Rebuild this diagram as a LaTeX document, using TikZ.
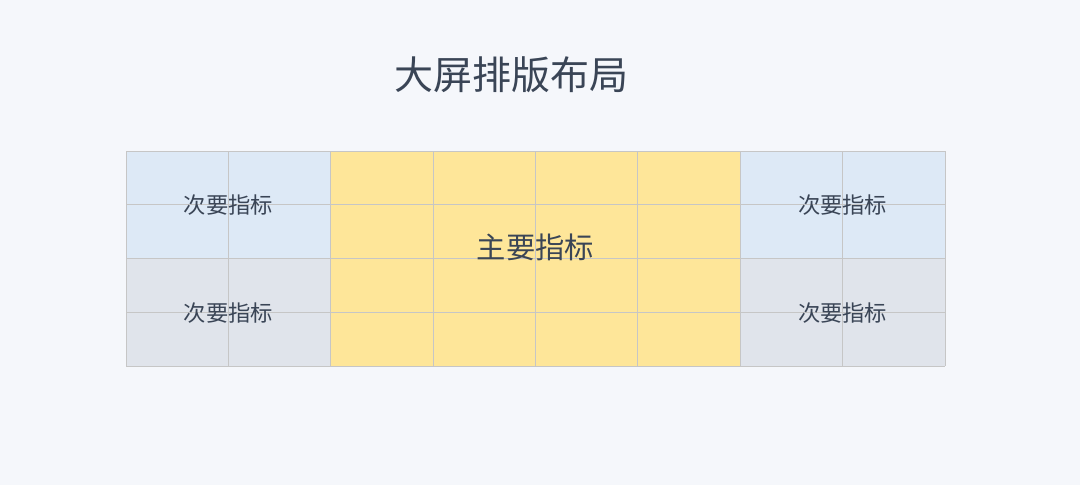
\documentclass[tikz,border=0pt]{standalone}
\usepackage{fontspec}
\newfontfamily\cjk{Noto Sans CJK SC}
\definecolor{bg}{HTML}{F5F7FB}
\definecolor{txt}{HTML}{3A4556}
\definecolor{blu}{HTML}{DDE9F6}
\definecolor{gry}{HTML}{E0E4EB}
\definecolor{yel}{HTML}{FEE699}
\definecolor{gridc}{HTML}{C6C6C6}
\tikzset{
  lbl/.style={text=txt,inner sep=0pt,font=\cjk\fontsize{22.3}{22.3}\selectfont},
  gl/.style={draw=gridc,line width=0.9pt}
}
\begin{document}
\begin{tikzpicture}[x=1pt,y=-1pt]
\fill[bg] (0,0) rectangle (1080,485);
\useasboundingbox (0,0) rectangle (1080,485);
\node[text=txt,inner sep=0pt,font=\cjk\fontsize{39}{39}\selectfont] (title) at (511,75) {大屏排版布局};
% fills
\fill[blu] (126,151) rectangle (331,259);
\fill[gry] (126,259) rectangle (331,366);
\fill[yel] (331,151) rectangle (740,366);
\fill[blu] (740,151) rectangle (945,259);
\fill[gry] (740,259) rectangle (945,366);
% grid
\foreach \x in {126,228.4,330.8,433.1,535.5,637.9,740.3,842.6,945}
  \draw[gl] (\x,151) -- (\x,366);
\foreach \y in {151,204.75,258.5,312.25,366}
  \draw[gl] (126,\y) -- (945,\y);
% labels
\node[lbl] (a) at (228.4,205.5) {次要指标};
\node[lbl] (b) at (228.4,313.5) {次要指标};
\node[lbl] (c) at (842.6,205.5) {次要指标};
\node[lbl] (d) at (842.6,313.5) {次要指标};
\node[lbl,font=\cjk\fontsize{29.3}{29.3}\selectfont] (m) at (535.5,247) {主要指标};
\end{tikzpicture}
\end{document}
